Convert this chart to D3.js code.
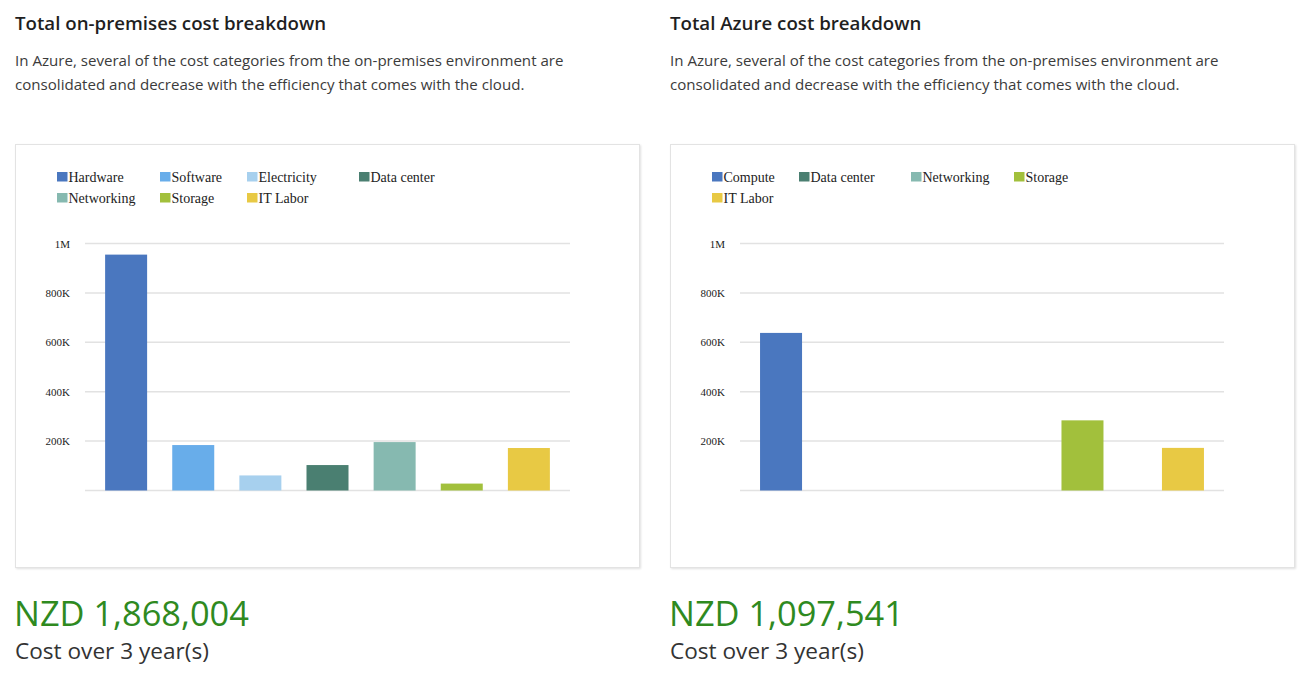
<!DOCTYPE html>
<html>
<head>
<meta charset="utf-8">
<script src="https://cdn.jsdelivr.net/npm/d3@7"></script>
<style>
  html, body { margin: 0; padding: 0; background: #fff; }
  body { width: 1311px; height: 676px; position: relative; overflow: hidden; font-family: "Open Sans", "Noto Sans", sans-serif; }
  .title { position: absolute; top: 10px; font-size: 18.7px; font-weight: 600; color: #1f1f1f; white-space: nowrap; }
  .sub { position: absolute; top: 48px; font-size: 15.1px; line-height: 24px; color: #3b3b3b; white-space: nowrap; }
  .card { position: absolute; top: 144px; width: 625px; height: 424px; background: #fff; border: 1px solid #e3e3e3; box-shadow: 1px 1px 2px rgba(0,0,0,0.12); box-sizing: border-box; }
  .total { position: absolute; top: 596px; font-size: 34.4px; line-height: 1; color: #2f8a1f; white-space: nowrap; }
  .period { position: absolute; top: 640px; font-size: 22.6px; line-height: 1; color: #333; white-space: nowrap; }
  svg { position: absolute; left: 0; top: 0; }
</style>
</head>
<body>
<script>
// ---------- data ----------
const onPremCategories = ["Hardware", "Software", "Electricity", "Data center", "Networking", "Storage", "IT Labor"];
const onPremValues     = [955000, 184000, 61000, 103000, 196000, 28000, 172000];

const azureCategories  = ["Compute", "Data center", "Networking", "Storage", "IT Labor"];
const azureValues      = [638000, 0, 0, 284000, 172541];

const yTickValues = [200000, 400000, 600000, 800000, 1000000];
const yTickLabels = ["200K", "400K", "600K", "800K", "1M"];

const onPremTitle = "Total on-premises cost breakdown";
const azureTitle  = "Total Azure cost breakdown";
const subtitleLines = [
  "In Azure, several of the cost categories from the on-premises environment are",
  "consolidated and decrease with the efficiency that comes with the cloud."
];
const onPremTotal = "NZD 1,868,004";
const azureTotal  = "NZD 1,097,541";
const periodText  = "Cost over 3 year(s)";

// ---------- styles ----------
const colorOf = {
  "Hardware": "#4a77bf",
  "Compute": "#4a77bf",
  "Software": "#68adea",
  "Electricity": "#a7d0ee",
  "Data center": "#4a7f71",
  "Networking": "#86b9b0",
  "Storage": "#a2c03c",
  "IT Labor": "#e8c944"
};

const page = d3.select("body");

function textBlock(x, title, total) {
  page.append("div").attr("class", "title").style("left", x + "px").text(title);
  page.append("div").attr("class", "sub").style("left", x + "px")
    .html(subtitleLines.join("<br>"));
  page.append("div").attr("class", "card").style("left", x + "px");
  page.append("div").attr("class", "total").style("left", (x - 1) + "px").text(total);
  page.append("div").attr("class", "period").style("left", x + "px").text(periodText);
}
textBlock(15, onPremTitle, onPremTotal);
textBlock(670, azureTitle, azureTotal);

const svg = page.append("svg").attr("width", 1311).attr("height", 676);

function drawChart(opt) {
  const g = svg.append("g");
  const y = d3.scaleLinear().domain([0, 1000000]).range([490.5, 243.5]);
  const x = d3.scaleBand().domain(opt.categories)
    .range([opt.x0, opt.x1]).paddingInner(opt.padIn).paddingOuter(opt.padOut);

  // gridlines (including baseline)
  const gridVals = [0].concat(yTickValues);
  g.selectAll("line.grid").data(gridVals).join("line")
    .attr("x1", opt.x0).attr("x2", opt.x1)
    .attr("y1", d => y(d)).attr("y2", d => y(d))
    .attr("stroke", "#e2e2e2").attr("stroke-width", 1.5);

  // axis labels via d3.axisLeft
  const axis = d3.axisLeft(y).tickValues(yTickValues)
    .tickFormat((d, i) => yTickLabels[i]).tickSize(0).tickPadding(0);
  const ag = g.append("g").attr("transform", `translate(${opt.labelX},0)`).call(axis);
  ag.select(".domain").remove();
  ag.selectAll("text").attr("font-family", "'Liberation Serif', 'Times New Roman', serif")
    .attr("font-size", 11).attr("fill", "#222");

  // bars
  const bw = 42;
  g.selectAll("rect.bar").data(opt.categories.map((c, i) => ({ c, v: opt.values[i] })).filter(d => d.v > 0))
    .join("rect")
    .attr("x", d => x(d.c) + x.bandwidth() / 2 - bw / 2)
    .attr("width", bw)
    .attr("y", d => y(d.v))
    .attr("height", d => y(0) - y(d.v))
    .attr("fill", d => colorOf[d.c]);

  // legend
  const lg = g.append("g").attr("font-family", "'Liberation Serif', 'Times New Roman', serif")
    .attr("font-size", 14).attr("fill", "#222");
  opt.categories.forEach((c, i) => {
    const col = i % 4, row = Math.floor(i / 4);
    const lx = opt.legendX + opt.legendCols[col];
    const ly = 172 + row * 21;
    lg.append("rect").attr("x", lx).attr("y", ly).attr("width", 10.5).attr("height", 9.5).attr("fill", colorOf[c]);
    lg.append("text").attr("x", lx + 11.5).attr("y", ly + 10).text(c);
  });
}

drawChart({
  categories: onPremCategories, values: onPremValues,
  x0: 85, x1: 570, padIn: 0.375, padOut: 0.3, labelX: 70,
  legendX: 57, legendCols: [0, 103, 190, 302]
});
drawChart({
  categories: azureCategories, values: azureValues,
  x0: 740, x1: 1224, padIn: 0.583, padOut: 0.2, labelX: 725,
  legendX: 712, legendCols: [0, 87, 199, 302]
});
</script>
</body>
</html>
